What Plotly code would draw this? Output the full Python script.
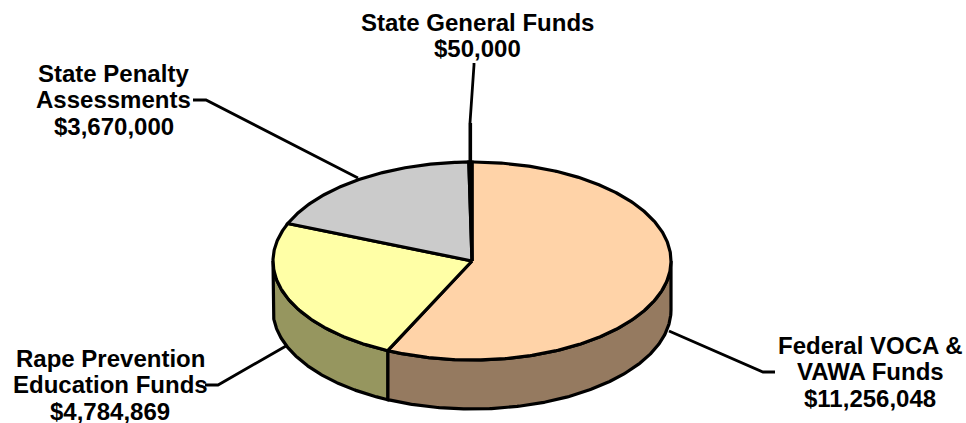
import numpy as np
import plotly.graph_objects as go

names = [["Federal VOCA &", "VAWA Funds"], ["Rape Prevention", "Education Funds"],
         ["State Penalty", "Assessments"], ["State General Funds"]]
values = [11256048, 4784869, 3670000, 50000]
top_colors = ["#FFD3A8", "#FFFFA6", "#CBCBCB", "#CBCBCB"]
side_colors = ["#957A60", "#96965F", "#757575", "#757575"]
label_pos = [(870, 345), (110, 358), (113.5, 73), (477, 22)]

CX, CY, RX, RY, DEPTH = 472, 261, 199, 99, 49
LW = 3.2
INK = "#000000"
FONT = "Liberation Sans"
LINE_STEP = 26.7

leaders = [
    [(669, 331), (763, 372), (775, 372)],
    [(286, 346), (218, 385), (205, 385)],
    [(358, 178), (206, 100), (193, 100)],
    [(470, 123), (474, 65), (474, 63)],
]


def rim(a0, a1, dy=0.0):
    t = np.radians(np.linspace(a0, a1, max(int(abs(a1 - a0) * 2), 2)))
    return CX + RX * np.sin(t), CY - RY * np.cos(t) + dy


fig = go.Figure()
angles = np.cumsum([0] + values) / sum(values) * 360

# side walls (only the front half of the disc shows)
for i in range(len(values)):
    a0, a1 = max(angles[i], 90), min(angles[i + 1], 270)
    if a1 <= a0:
        continue
    x1, y1 = rim(a0, a1)
    x2, y2 = rim(a1, a0, DEPTH)
    fig.add_trace(go.Scatter(
        x=np.r_[x1, x2, x1[0]], y=np.r_[y1, y2, y1[0]], mode="lines", fill="toself",
        fillcolor=side_colors[i], line=dict(color=INK, width=LW), hoverinfo="skip"))

# top faces
for i in range(len(values)):
    x1, y1 = rim(angles[i], angles[i + 1])
    fig.add_trace(go.Scatter(
        x=np.r_[CX, x1, CX], y=np.r_[CY, y1, CY], mode="lines", fill="toself",
        fillcolor=top_colors[i], line=dict(color=INK, width=LW), hoverinfo="skip"))

shapes = []
for pts in leaders:
    path = "M " + " L ".join(f"{x},{y}" for x, y in pts)
    shapes.append(dict(type="path", path=path, line=dict(color=INK, width=LW - 0.4), layer="above"))
# the thin general-funds wedge rises above the rim
shapes.append(dict(type="line", x0=470.3, x1=470.3, y0=123, y1=CY - RY,
                   line=dict(color=INK, width=3.6), layer="above"))

annotations = []
for n, v, p in zip(names, values, label_pos):
    for k, line in enumerate(n + [f"${v:,}"]):
        annotations.append(dict(
            x=p[0], y=p[1] + k * LINE_STEP, xref="x", yref="y", showarrow=False,
            xanchor="center", yanchor="middle", text=f"<b>{line}</b>",
            font=dict(family=FONT, size=24, color=INK)))

fig.update_layout(
    width=966, height=423, margin=dict(l=0, r=0, t=0, b=0),
    paper_bgcolor="white", plot_bgcolor="white", showlegend=False,
    xaxis=dict(range=[0, 966], visible=False, fixedrange=True),
    yaxis=dict(range=[423, 0], visible=False, fixedrange=True),
    shapes=shapes, annotations=annotations,
)
fig.write_html("out.html", config={"displayModeBar": False},
               post_script="document.body.style.margin='0';document.body.style.overflow='hidden';")
